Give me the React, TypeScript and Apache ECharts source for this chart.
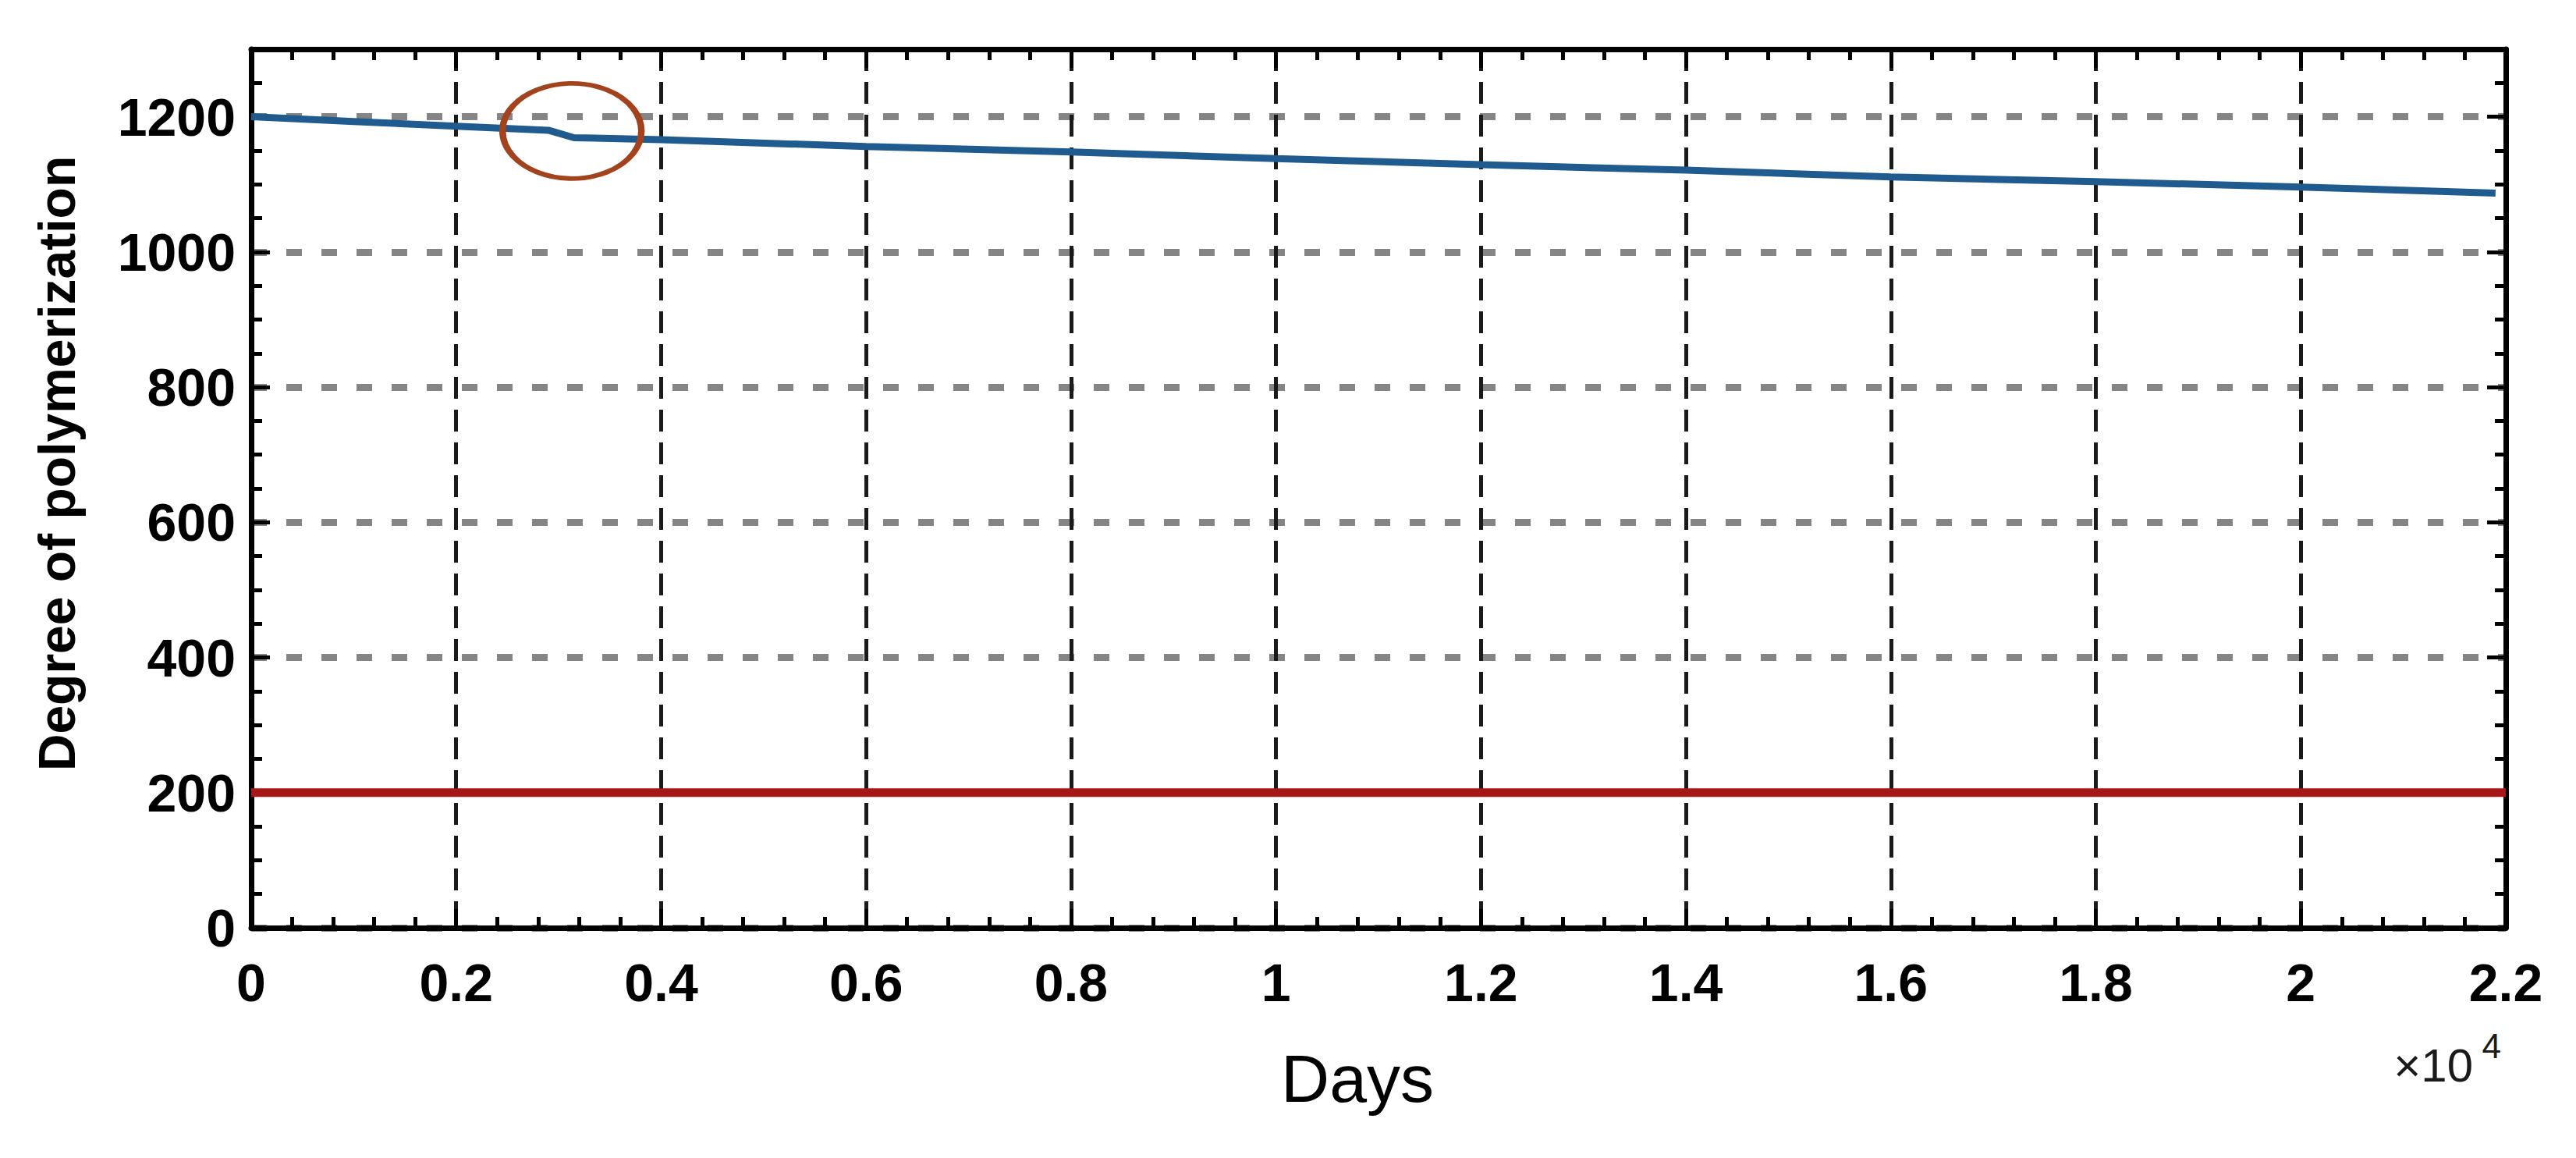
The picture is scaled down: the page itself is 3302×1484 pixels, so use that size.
import * as echarts from 'echarts'
import { useEffect, useRef } from 'react'

// Degree of polymerization over time (days)
const days = [0, 1000, 2000, 2900, 3150, 4000, 6000, 8000, 10000, 12000, 14000, 16000, 18000, 20000, 21900]
const dpValues = [1200, 1193, 1186, 1180, 1169, 1166, 1156, 1148, 1138, 1129, 1121, 1111, 1104, 1096, 1087]

// End-of-life threshold line
const limitDays = [0, 22000]
const limitValues = [200, 200]

// Circled change point
const circledPoint = [3130, 1179]

const FONT = "'Liberation Sans', Arial, Helvetica, sans-serif"

function App() {
  const chartRef = useRef<HTMLDivElement>(null)

  useEffect(() => {
    if (!chartRef.current) return
    const chart = echarts.init(chartRef.current, null, { renderer: 'svg' })

    const axisLine = { onZero: false, lineStyle: { color: '#000', width: 7 } }
    const axisTick = { inside: true, length: 24, lineStyle: { color: '#000', width: 5 } }
    const xMinor = { show: true, splitNumber: 5, length: 14, lineStyle: { color: '#000', width: 5 } }
    const yMinor = { show: true, splitNumber: 4, length: 14, lineStyle: { color: '#000', width: 5 } }

    chart.setOption({
      animation: false,
      backgroundColor: '#fff',
      grid: { left: 322, right: 90, top: 63, bottom: 295, containLabel: false },
      xAxis: [
        {
          type: 'value',
          position: 'bottom',
          min: 0,
          max: 22000,
          interval: 2000,
          axisLine,
          axisTick,
          minorTick: xMinor,
          axisLabel: {
            margin: 36,
            fontSize: 68,
            fontWeight: 'bold',
            color: '#000',
            fontFamily: FONT,
            formatter: (v: number) => String(+(v / 10000).toFixed(1))
          },
          splitLine: {
            show: true,
            lineStyle: { color: '#1a1a1a', width: 5, type: [28, 14] }
          },
          name: 'Days',
          nameLocation: 'middle',
          nameGap: 150,
          nameTextStyle: {
            fontSize: 86,
            color: '#000',
            fontFamily: FONT,
            padding: [0, 54, 0, 0]
          }
        },
        {
          type: 'value',
          position: 'top',
          min: 0,
          max: 22000,
          interval: 2000,
          axisLine,
          axisTick,
          minorTick: xMinor,
          axisLabel: { show: false },
          splitLine: { show: false }
        }
      ],
      yAxis: [
        {
          type: 'value',
          position: 'left',
          min: 0,
          max: 1300,
          interval: 200,
          axisLine,
          axisTick,
          minorTick: yMinor,
          axisLabel: {
            margin: 20,
            fontSize: 68,
            fontWeight: 'bold',
            color: '#000',
            fontFamily: FONT,
            showMaxLabel: false,
            formatter: (v: number) => String(v)
          },
          splitLine: {
            show: true,
            showMaxLine: false,
            lineStyle: { color: '#858585', width: 9, type: [20, 25] }
          },
          name: 'Degree of polymerization',
          nameLocation: 'middle',
          nameGap: 216,
          nameTextStyle: {
            fontSize: 66,
            fontWeight: 'bold',
            color: '#000',
            fontFamily: FONT,
            padding: [0, 0, 0, 64]
          }
        },
        {
          type: 'value',
          position: 'right',
          min: 0,
          max: 1300,
          interval: 200,
          axisLine,
          axisTick,
          minorTick: yMinor,
          axisLabel: { show: false },
          splitLine: { show: false }
        }
      ],
      series: [
        {
          name: 'DP',
          type: 'line',
          data: days.map((d, i) => [d, dpValues[i]]),
          symbol: 'none',
          lineStyle: { color: '#1f5b8e', width: 9 },
          z: 4,
          markPoint: {
            silent: true,
            data: [
              {
                coord: circledPoint,
                symbol: 'circle',
                symbolSize: [178, 122],
                itemStyle: { color: 'rgba(0,0,0,0)', borderColor: '#a3431d', borderWidth: 7 },
                label: { show: false }
              }
            ]
          }
        },
        {
          name: 'Limit',
          type: 'line',
          data: limitDays.map((d, i) => [d, limitValues[i]]),
          symbol: 'none',
          lineStyle: { color: '#a81717', width: 11 },
          z: 3
        }
      ],
      graphic: [
        {
          type: 'text',
          right: 132,
          top: 1335,
          style: { text: '×10', fontSize: 60, fontFamily: FONT, fill: '#1a1a1a' }
        },
        {
          type: 'text',
          right: 96,
          top: 1318,
          style: { text: '4', fontSize: 44, fontFamily: FONT, fill: '#1a1a1a' }
        }
      ]
    })

    return () => {
      chart.dispose()
    }
  }, [])

  return (
    <div
      ref={chartRef}
      style={{ position: 'fixed', left: 0, top: 0, width: '3302px', height: '1484px', background: '#fff' }}
    />
  )
}

export default App
